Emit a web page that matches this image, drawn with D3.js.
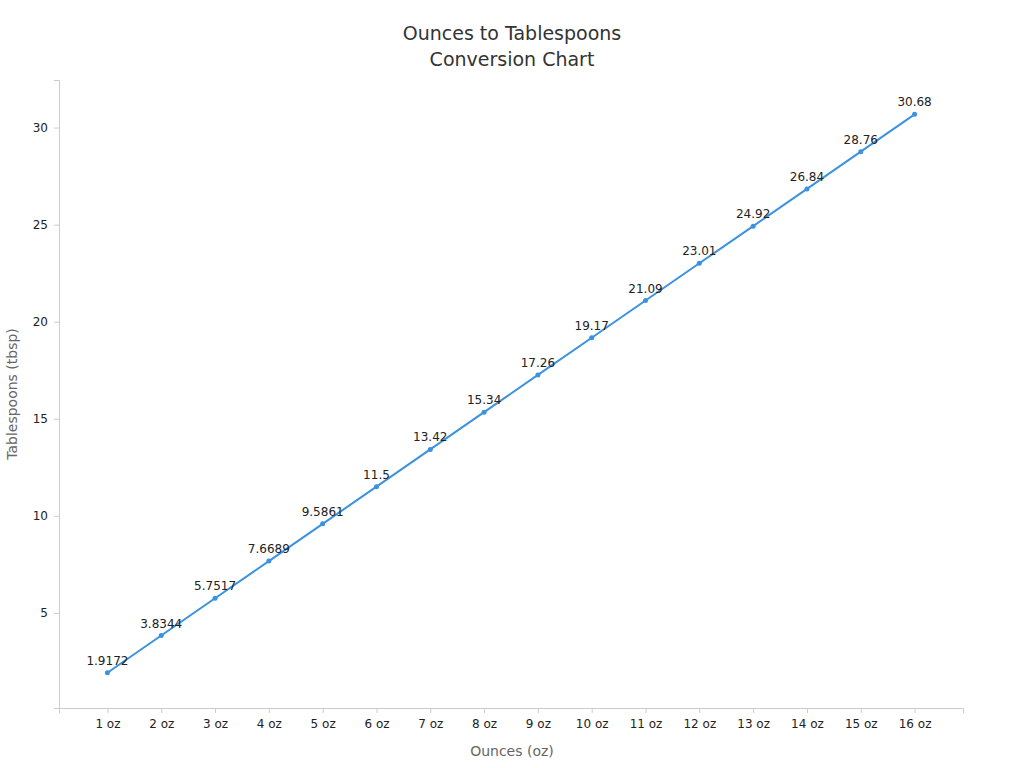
<!DOCTYPE html>
<html><head><meta charset="utf-8">
<script src="https://cdn.jsdelivr.net/npm/d3@7"></script>
<style>body{margin:0;background:#fff;font-family:"DejaVu Sans",sans-serif;}</style>
</head><body>
<script>
const categories = ["1 oz","2 oz","3 oz","4 oz","5 oz","6 oz","7 oz","8 oz","9 oz","10 oz","11 oz","12 oz","13 oz","14 oz","15 oz","16 oz"];
const values = [1.9172,3.8344,5.7517,7.6689,9.5861,11.5,13.42,15.34,17.26,19.17,21.09,23.01,24.92,26.84,28.76,30.68];
const yTicks = [5,10,15,20,25,30];

const svg = d3.select('body').append('svg').attr('width',1024).attr('height',768);
const x = d3.scalePoint().domain(categories).range([59,963]).padding(0.9);
const y = d3.scaleLinear().domain([0.1,32.45]).range([708,80]);

svg.append('g').attr('transform','translate(0,708)')
  .call(d3.axisBottom(x).tickSizeOuter(0).tickSize(5).tickPadding(6))
  .call(g=>{g.select('.domain').attr('stroke','#ccc');g.selectAll('.tick line').attr('stroke','#ccc');
    g.selectAll('text').attr('fill','#222').style('font-size','12px').style('font-family','DejaVu Sans');});
svg.append('g').attr('transform','translate(59,0)')
  .call(d3.axisLeft(y).tickValues(yTicks).tickSizeOuter(0).tickSize(5).tickPadding(6))
  .call(g=>{g.select('.domain').attr('stroke','#ccc');g.selectAll('.tick line').attr('stroke','#ccc');
    g.selectAll('text').attr('fill','#222').style('font-size','12px').style('font-family','DejaVu Sans');});

svg.append('text').attr('x',512).attr('y',40).attr('text-anchor','middle').attr('fill','#333').style('font-size','19px').text('Ounces to Tablespoons');
svg.append('text').attr('x',512).attr('y',66).attr('text-anchor','middle').attr('fill','#333').style('font-size','19px').text('Conversion Chart');
svg.append('text').attr('x',512).attr('y',756).attr('text-anchor','middle').attr('fill','#666').style('font-size','14px').text('Ounces (oz)');
svg.append('text').attr('transform','translate(17,394) rotate(-90)').attr('text-anchor','middle').attr('fill','#666').style('font-size','14px').text('Tablespoons (tbsp)');

const line = d3.line().x((d,i)=>x(categories[i])).y(d=>y(d));
svg.append('path').datum(values).attr('d',line).attr('fill','none').attr('stroke','#3a92e0').attr('stroke-width',2);
svg.selectAll('circle').data(values).enter().append('circle')
  .attr('cx',(d,i)=>x(categories[i])).attr('cy',d=>y(d)).attr('r',2.5).attr('fill','#3a92e0');
svg.selectAll('.lbl').data(values).enter().append('text')
  .attr('x',(d,i)=>x(categories[i])).attr('y',d=>y(d)-8).attr('text-anchor','middle')
  .attr('fill','#222').style('font-size','12px').text(d=>d);
</script>
</body></html>
